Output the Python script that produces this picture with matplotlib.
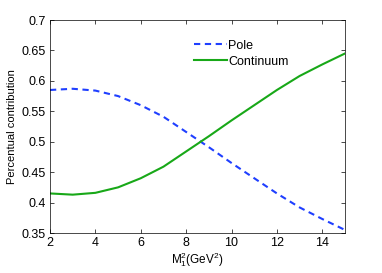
import numpy as np
import matplotlib
matplotlib.use("Agg")
import matplotlib.pyplot as plt

plt.rcParams['font.family'] = ['Liberation Sans', 'DejaVu Sans']
plt.rcParams['mathtext.fontset'] = 'custom'
plt.rcParams['mathtext.rm'] = 'Liberation Sans'
plt.rcParams['mathtext.it'] = 'Liberation Sans'

m2 = [2, 3, 4, 5, 6, 7, 8, 9, 10, 11, 12, 13, 14, 15]
pole = [0.585, 0.587, 0.584, 0.575, 0.560, 0.541, 0.516, 0.491, 0.465, 0.440, 0.415, 0.392, 0.373, 0.355]
continuum = [0.415, 0.413, 0.416, 0.425, 0.440, 0.459, 0.484, 0.509, 0.535, 0.560, 0.585, 0.608, 0.627, 0.645]

fig = plt.figure(figsize=(3.82, 2.73), dpi=100)
ax = fig.add_axes([50/382, 1 - 233/273, 295/382, 213/273])

ax.plot(m2, pole, '--', color='#1f3fff', lw=1.5, dashes=(3, 2.2), label='Pole')
ax.plot(m2, continuum, '-', color='#18a818', lw=1.5, label='Continuum')

ax.set_xlim(2, 15)
ax.set_ylim(0.35, 0.7)
ax.set_xticks([2, 4, 6, 8, 10, 12, 14])
ax.set_yticks([0.35, 0.4, 0.45, 0.5, 0.55, 0.6, 0.65, 0.7])
ax.set_yticklabels(['0.35', '0.4', '0.45', '0.5', '0.55', '0.6', '0.65', '0.7'])
ax.tick_params(direction='in', labelsize=9, length=3, width=0.5, top=True, right=True, pad=3)
for s in ax.spines.values():
    s.set_linewidth(0.5)

ax.set_xlabel(r'M$_1^2$(GeV$^2$)', fontsize=8.5, labelpad=1)
ax.set_ylabel('Percentual contribution', fontsize=8, labelpad=3)

ax.legend(loc='upper left', bbox_to_anchor=(0.45, 0.96), frameon=False, fontsize=9,
          handlelength=2.6, handletextpad=0.15, labelspacing=0.3)

fig.savefig('out.png', dpi=100)
